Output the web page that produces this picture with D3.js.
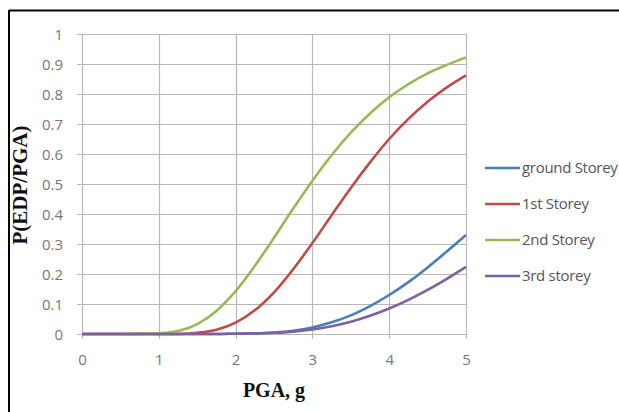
<!DOCTYPE html>
<html>
<head>
<meta charset="utf-8">
<script src="https://cdn.jsdelivr.net/npm/d3@7"></script>
<style>
  body { margin: 0; background: #fff; }
  .legend-text { fill: #555; font-family: "Open Sans", "Liberation Sans", sans-serif; font-size: 15px; letter-spacing: -0.3px; }
  .axis-title { font-family: "Liberation Serif", "DejaVu Serif", serif; font-weight: bold; fill: #111; }
</style>
</head>
<body>
<svg id="chart" width="619" height="412"></svg>
<script>
// PGA values (g)
const pga = [0, 0.5, 1, 1.25, 1.5, 1.75, 2, 2.25, 2.5, 2.75, 3, 3.25, 3.5, 3.75, 4, 4.25, 4.5, 4.75, 5];
// probabilities
const groundStorey = [0, 0, 0, 0, 0, 0, 0.001, 0.002, 0.005, 0.011, 0.022, 0.039, 0.062, 0.093, 0.13, 0.173, 0.222, 0.275, 0.33];
const firstStorey = [0, 0, 0, 0, 0.004, 0.014, 0.038, 0.079, 0.139, 0.216, 0.303, 0.396, 0.487, 0.572, 0.65, 0.717, 0.774, 0.822, 0.862];
const secondStorey = [0, 0, 0.002, 0.01, 0.033, 0.077, 0.143, 0.227, 0.321, 0.418, 0.511, 0.596, 0.671, 0.735, 0.789, 0.833, 0.869, 0.897, 0.922];
const thirdStorey = [0, 0, 0, 0, 0, 0, 0.001, 0.002, 0.004, 0.008, 0.015, 0.026, 0.041, 0.061, 0.085, 0.114, 0.147, 0.184, 0.224];
const seriesNames = ["ground Storey", "1st Storey", "2nd Storey", "3rd storey"];
const xTicks = [0, 1, 2, 3, 4, 5];
const yTicks = [0, 0.1, 0.2, 0.3, 0.4, 0.5, 0.6, 0.7, 0.8, 0.9, 1];

const series = [groundStorey, firstStorey, secondStorey, thirdStorey];
const colors = ["#4a7ebb", "#be4b48", "#98b954", "#7d60a0"];

const svg = d3.select("#chart");
const margin = { left: 82, right: 153, top: 34, bottom: 78 };
const width = 619, height = 412;

// outer frame (top and left edges only visible)
svg.append("line").attr("x1", 9).attr("x2", width).attr("y1", 10.5).attr("y2", 10.5)
  .attr("stroke", "#000").attr("stroke-width", 2);
svg.append("line").attr("x1", 9).attr("x2", 9).attr("y1", 10).attr("y2", height)
  .attr("stroke", "#000").attr("stroke-width", 2);

const x = d3.scaleLinear().domain([0, 5]).range([margin.left, width - margin.right]);
const y = d3.scaleLinear().domain([0, 1]).range([height - margin.bottom, margin.top]);

// gridlines
svg.append("g")
  .selectAll("line.h")
  .data(yTicks)
  .enter()
  .append("line")
  .attr("x1", x(0) - 5)
  .attr("x2", x(5))
  .attr("y1", (d) => Math.round(y(d)) + 0.5)
  .attr("y2", (d) => Math.round(y(d)) + 0.5)
  .attr("stroke", "#b8b8b8")
  .attr("stroke-width", 1.2);
svg.append("g")
  .selectAll("line.v")
  .data(xTicks)
  .enter()
  .append("line")
  .attr("x1", (d) => Math.round(x(d)) + 0.5)
  .attr("x2", (d) => Math.round(x(d)) + 0.5)
  .attr("y1", y(1))
  .attr("y2", y(0) + 5)
  .attr("stroke", "#b8b8b8")
  .attr("stroke-width", 1.2);

// axes (labels only)
const xAxis = svg.append("g")
  .attr("transform", "translate(0," + (y(0) + 17) + ")")
  .call(d3.axisBottom(x).tickValues(xTicks).tickFormat(d3.format("d")).tickSize(0));
xAxis.select(".domain").remove();
const yAxis = svg.append("g")
  .attr("transform", "translate(" + (x(0) - 16) + ",0)")
  .call(d3.axisLeft(y).tickValues(yTicks).tickFormat((d) => (d === 0 || d === 1 ? d3.format("d")(d) : d3.format(".1f")(d))).tickSize(0));
yAxis.select(".domain").remove();
yAxis.selectAll("text").attr("dy", "0.35em");
[xAxis, yAxis].forEach((a) => {
  a.attr("font-size", null).attr("font-family", null);
  a.selectAll("text")
    .style("font-family", "'Open Sans', 'Liberation Sans', sans-serif")
    .style("font-size", "15px")
    .style("fill", "#777");
});

// curves
const line = d3.line()
  .x((d, i) => x(pga[i]))
  .y((d) => y(d))
  .curve(d3.curveMonotoneX);
svg.append("g")
  .selectAll("path")
  .data(series)
  .enter()
  .append("path")
  .attr("fill", "none")
  .attr("stroke", (d, i) => colors[i])
  .attr("stroke-width", 2.6)
  .attr("d", line);

// axis titles
svg.append("text")
  .attr("class", "axis-title")
  .attr("x", (x(0) + x(5)) / 2)
  .attr("y", 397)
  .attr("font-size", 20)
  .attr("text-anchor", "middle")
  .text("PGA, g");
svg.append("text")
  .attr("class", "axis-title")
  .attr("transform", "translate(27," + 185 + ") rotate(-90)")
  .attr("font-size", 21)
  .attr("text-anchor", "middle")
  .text("P(EDP/PGA)");

// legend
const legend = svg.append("g").attr("transform", "translate(485,168)");
const items = legend.selectAll("g")
  .data(seriesNames)
  .enter()
  .append("g")
  .attr("transform", (d, i) => "translate(0," + i * 36 + ")");
items.append("line")
  .attr("x1", 0).attr("x2", 35).attr("y1", 0).attr("y2", 0)
  .attr("stroke", (d, i) => colors[i])
  .attr("stroke-width", 2.6);
items.append("text")
  .attr("class", "legend-text")
  .attr("x", 37)
  .attr("y", 0)
  .attr("dy", "0.35em")
  .text((d) => d);
</script>
</body>
</html>
